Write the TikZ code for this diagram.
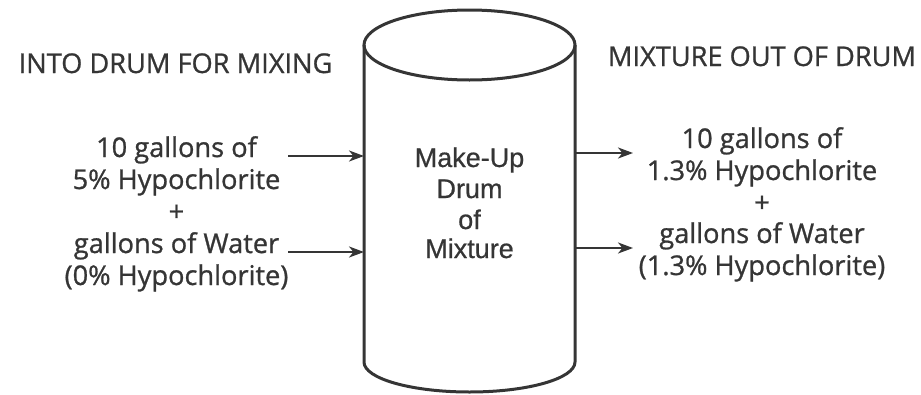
\documentclass[tikz,border=0pt]{standalone}
\usepackage{fontspec}
\setmainfont{Open Sans}
\newfontfamily\heavyfont{Open Sans}[FakeBold=0.9]
\newfontfamily\drumfont{Liberation Sans}[FakeBold=0.7]
\usetikzlibrary{arrows.meta}
\definecolor{ink}{HTML}{353535}
\tikzset{
  txt/.style={anchor=base, inner sep=0pt, text=ink, font=\heavyfont\fontsize{27.2}{32}\selectfont},
  drumtxt/.style={anchor=base, inner sep=0pt, text=ink, font=\drumfont\fontsize{27}{30}\selectfont},
  drumline/.style={draw=ink, line width=3pt},
  arr/.style={draw=ink, line width=2.4pt, -{Stealth[length=15pt, width=11pt, inset=4.5pt]}}
}
\begin{document}
\begin{tikzpicture}[x=1pt,y=-1pt]
\useasboundingbox (0,0) rectangle (921,394);
% drum
\draw[drumline] (469.5,45) ellipse [x radius=105.5pt, y radius=35pt];
\draw[drumline] (364,45) -- (364,362) arc[start angle=180, end angle=360, x radius=105.5pt, y radius=30pt] -- (575,45);
% headers
\node[txt] (hin) at (175.5,73) {INTO DRUM FOR MIXING};
\node[txt] (hout) at (762,66) {MIXTURE OUT OF DRUM};
% drum text
\node[drumtxt] (d1) at (469.5,167) {Make-Up};
\node[drumtxt] (d2) at (469.5,198) {Drum};
\node[drumtxt] (d3) at (469.5,229) {of};
\node[drumtxt] (d4) at (469.5,258) {Mixture};
% left block
\node[txt] (l1) at (176.5,157) {10 gallons of};
\node[txt] (l2) at (176.5,189) {5\% Hypochlorite};
\node[txt] (l3) at (176.5,221) {+};
\node[txt] (l4) at (176.5,253) {gallons of Water};
\node[txt] (l5) at (176.5,285) {(0\% Hypochlorite)};
% right block
\node[txt] (r1) at (762,148) {10 gallons of};
\node[txt] (r2) at (762,180) {1.3\% Hypochlorite};
\node[txt] (r3) at (762,212) {+};
\node[txt] (r4) at (762,243) {gallons of Water};
\node[txt] (r5) at (762,275) {(1.3\% Hypochlorite)};
% arrow ends
\coordinate (la1) at (288,156);
\coordinate (lb1) at (364,156);
\coordinate (la2) at (288,252);
\coordinate (lb2) at (364,252);
\coordinate (ra1) at (575,153);
\coordinate (rb1) at (633,153);
\coordinate (ra2) at (575,248);
\coordinate (rb2) at (633,248);
\draw[arr] (la1) -- (lb1);
\draw[arr] (la2) -- (lb2);
\draw[arr] (ra1) -- (rb1);
\draw[arr] (ra2) -- (rb2);
\end{tikzpicture}
\end{document}
